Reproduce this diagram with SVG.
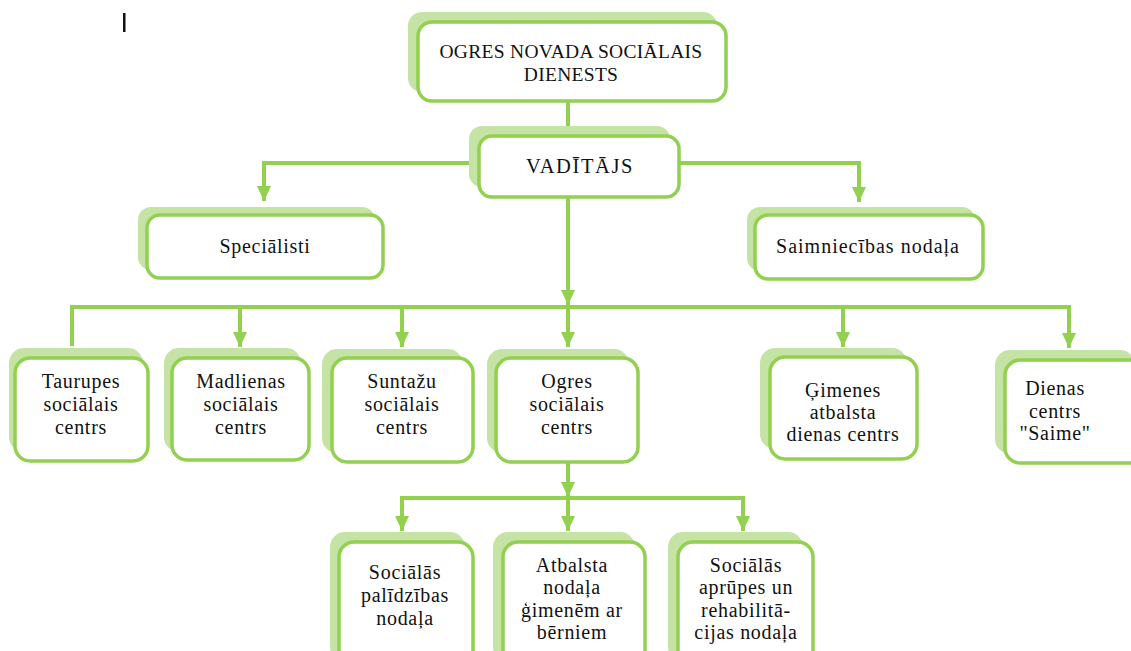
<svg xmlns="http://www.w3.org/2000/svg" width="1131" height="651" viewBox="0 0 1131 651">
<defs>
<style>
.sh{fill:#c6e3a6;stroke:none}
.bx{fill:#fff;stroke:#92d050;stroke-width:3.5}
.t{font-family:"Liberation Serif","Times New Roman",serif;font-size:20px;letter-spacing:0.7px;fill:#111;text-anchor:middle}
.c{fill:none;stroke:#92d050;stroke-width:4}
</style>
<marker id="ar" markerUnits="userSpaceOnUse" markerWidth="16" markerHeight="16" viewBox="0 0 16 16" refX="15" refY="8" orient="auto">
<path d="M0,1 L15,8 L0,15 Z" fill="#92d050"/>
</marker>
</defs>
<rect width="1131" height="651" fill="#fff"/>
<rect x="123" y="13" width="2.5" height="19" fill="#111"/>
<g id="connectors">
<line class="c" x1="568" y1="102" x2="568" y2="136"/>
<polyline class="c" points="478,163 264,163 264,201" marker-end="url(#ar)"/>
<polyline class="c" points="679,163 859,163 859,202" marker-end="url(#ar)"/>
<line class="c" x1="568" y1="197" x2="568" y2="305" marker-end="url(#ar)"/>
<polyline class="c" points="72,346 72,307 1069,307 1069,348" marker-end="url(#ar)"/>
<line class="c" x1="240" y1="307" x2="240" y2="347" marker-end="url(#ar)"/>
<line class="c" x1="402" y1="307" x2="402" y2="347" marker-end="url(#ar)"/>
<line class="c" x1="568" y1="307" x2="568" y2="347" marker-end="url(#ar)"/>
<line class="c" x1="843" y1="307" x2="843" y2="347" marker-end="url(#ar)"/>
<line class="c" x1="568" y1="462" x2="568" y2="497" marker-end="url(#ar)"/>
<polyline class="c" points="402,531 402,498 743,498 743,531" marker-end="url(#ar)"/>
<line class="c" x1="568" y1="498" x2="568" y2="531" marker-end="url(#ar)"/>
<line class="c" x1="402" y1="498" x2="402" y2="531" marker-end="url(#ar)"/>
</g>
<g id="n-dienests">
<rect class="sh" x="408" y="12" width="309" height="80" rx="14"/>
<rect class="bx" x="418" y="22" width="308" height="79" rx="14"/>
<text class="t" x="571" y="58" style="font-size:19.5px;letter-spacing:0.3px">OGRES NOVADA SOCIĀLAIS</text>
<text class="t" x="571" y="81" style="font-size:19.5px;letter-spacing:0.3px">DIENESTS</text>
</g>
<g id="n-vaditajs">
<rect class="sh" x="469" y="126" width="201" height="61" rx="13"/>
<rect class="bx" x="479" y="136" width="200" height="61" rx="13"/>
<text class="t" x="580" y="173" style="font-size:20.5px;letter-spacing:1.6px">VADĪTĀJS</text>
</g>
<g id="n-specialisti">
<rect class="sh" x="138" y="207" width="237" height="63" rx="13"/>
<rect class="bx" x="147" y="215" width="236" height="63" rx="13"/>
<text class="t" x="265" y="253">Speciālisti</text>
</g>
<g id="n-saimniecibas">
<rect class="sh" x="747" y="207" width="228" height="64" rx="13"/>
<rect class="bx" x="755" y="215" width="228" height="64" rx="13"/>
<text class="t" x="868" y="253" style="letter-spacing:1px">Saimniecības nodaļa</text>
</g>
<g id="n-taurupes">
<rect class="sh" x="9" y="348" width="134" height="104" rx="15"/>
<rect class="bx" x="15" y="358" width="133" height="103" rx="15"/>
<text class="t" x="81" y="388">Taurupes</text>
<text class="t" x="81" y="411">sociālais</text>
<text class="t" x="81" y="434">centrs</text>
</g>
<g id="n-madlienas">
<rect class="sh" x="164" y="348" width="137" height="104" rx="15"/>
<rect class="bx" x="172" y="358" width="137" height="102" rx="15"/>
<text class="t" x="241" y="388">Madlienas</text>
<text class="t" x="241" y="411">sociālais</text>
<text class="t" x="241" y="434">centrs</text>
</g>
<g id="n-suntazu">
<rect class="sh" x="322" y="349" width="141" height="104" rx="15"/>
<rect class="bx" x="332" y="358" width="141" height="104" rx="15"/>
<text class="t" x="402" y="388">Suntažu</text>
<text class="t" x="402" y="411">sociālais</text>
<text class="t" x="402" y="434">centrs</text>
</g>
<g id="n-ogres">
<rect class="sh" x="487" y="349" width="142" height="104" rx="15"/>
<rect class="bx" x="496" y="358" width="142" height="104" rx="15"/>
<text class="t" x="567" y="388">Ogres</text>
<text class="t" x="567" y="411">sociālais</text>
<text class="t" x="567" y="434">centrs</text>
</g>
<g id="n-gimenes">
<rect class="sh" x="760" y="348" width="147" height="101" rx="15"/>
<rect class="bx" x="770" y="357" width="147" height="102" rx="15"/>
<text class="t" x="843" y="397">Ģimenes</text>
<text class="t" x="843" y="419">atbalsta</text>
<text class="t" x="843" y="441">dienas centrs</text>
</g>
<g id="n-dienas">
<rect class="sh" x="995" y="350" width="140" height="104" rx="15"/>
<rect class="bx" x="1005" y="360" width="140" height="103" rx="15"/>
<text class="t" x="1055" y="395">Dienas</text>
<text class="t" x="1055" y="418">centrs</text>
<text class="t" x="1055" y="440">"Saime"</text>
</g>
<g id="n-palidzibas">
<rect class="sh" x="330" y="532" width="135" height="130" rx="15"/>
<rect class="bx" x="339" y="542" width="134" height="130" rx="15"/>
<text class="t" x="405" y="579">Sociālās</text>
<text class="t" x="405" y="602">palīdzības</text>
<text class="t" x="405" y="625">nodaļa</text>
</g>
<g id="n-atbalsta">
<rect class="sh" x="493" y="532" width="142" height="130" rx="15"/>
<rect class="bx" x="503" y="542" width="142" height="130" rx="15"/>
<text class="t" x="572" y="572">Atbalsta</text>
<text class="t" x="572" y="594">nodaļa</text>
<text class="t" x="572" y="617">ģimenēm ar</text>
<text class="t" x="572" y="639">bērniem</text>
</g>
<g id="n-aprupes">
<rect class="sh" x="668" y="532" width="135" height="130" rx="15"/>
<rect class="bx" x="678" y="542" width="135" height="130" rx="15"/>
<text class="t" x="746" y="572">Sociālās</text>
<text class="t" x="746" y="594">aprūpes un</text>
<text class="t" x="746" y="617">rehabilitā-</text>
<text class="t" x="746" y="639">cijas nodaļa</text>
</g>
</svg>
